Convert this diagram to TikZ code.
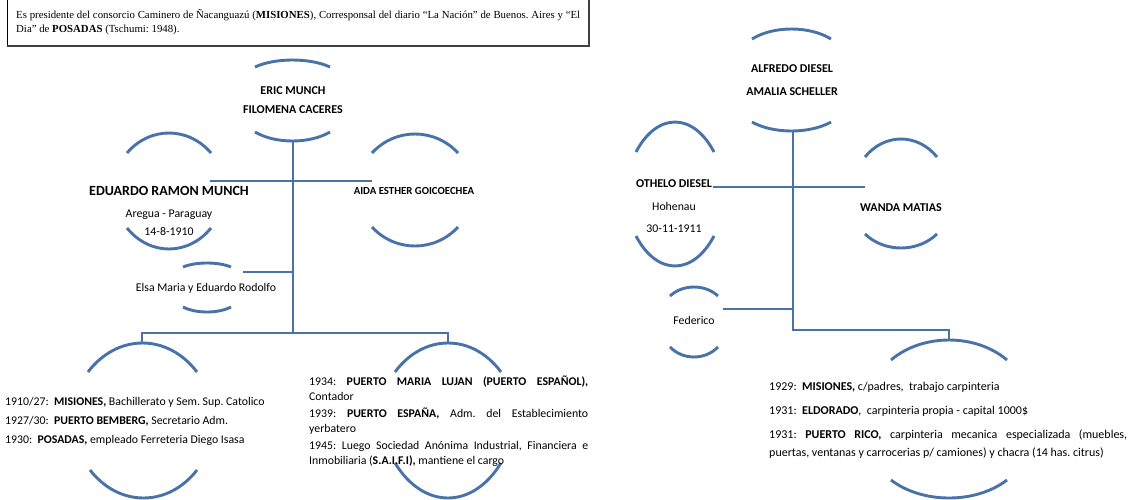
\documentclass[tikz,border=0pt]{standalone}
\usepackage{fontspec}
\setmainfont{Carlito}
\newfontfamily\timesf{Liberation Serif}
\definecolor{famblue}{RGB}{72,114,168}
\tikzset{
  conn/.style={draw=famblue, line width=2.9pt},
  arcline/.style={draw=famblue, line width=2.9pt},
  nm/.style={font=\fontsize{12}{14}\selectfont\bfseries, inner sep=0pt, anchor=base},
  tx/.style={font=\fontsize{11.8}{14}\selectfont, inner sep=0pt, anchor=base},
  blk/.style={inner sep=0pt, anchor=base west},
}
\newcommand{\famarc}[4]{\draw[arcline] (#1,#3) .. controls ({#1+0.27*(#2-#1)},{#3+1.333*(#4-#3)}) and ({#2-0.27*(#2-#1)},{#3+1.333*(#4-#3)}) .. (#2,#3);}
\frenchspacing
\begin{document}
\begin{tikzpicture}[x=1pt,y=-1pt]
\useasboundingbox (0,0) rectangle (1128,499);
% top text box
\draw[black, line width=0.8pt] (7,-3) rectangle (589,46);
\draw[black!75, line width=1.6pt] (589,-3) -- (589,46) -- (7,46);
\node[blk] (bio) at (16,18.5) {\parbox[t]{564pt}{\timesf\fontsize{10.8}{14}\selectfont\hyphenpenalty=10000
Es presidente del consorcio Caminero de Ñacanguazú (\textbf{MISIONES}), Corresponsal del diario “La Nación” de Buenos. Aires y “El\linebreak
Dia” de \textbf{POSADAS} (Tschumi: 1948).}};

% ---------- left family ----------
\famarc{255}{330}{67}{60}
\famarc{255}{330}{132}{141}
\node[nm] (eric) at (293,94) {ERIC MUNCH};
\node[nm] (filomena) at (293,113) {FILOMENA CACERES};

\famarc{127}{211}{153}{133}
\famarc{127}{211}{228}{249}
\node[nm, font=\fontsize{14}{16}\selectfont\bfseries] (eduardo) at (169,195.5) {EDUARDO RAMON MUNCH};
\node[tx] (aregua) at (169,217) {Aregua - Paraguay};
\node[tx] (nac1) at (169,235) {14-8-1910};

\famarc{372}{458}{153}{134}
\famarc{372}{458}{227}{246}
\node[nm, font=\fontsize{10.8}{12}\selectfont\bfseries] (aida) at (414,194) {AIDA ESTHER GOICOECHEA};

\famarc{183}{231}{267}{263}
\famarc{183}{231}{307}{312}
\node[tx] (elsa) at (206,291) {Elsa Maria y Eduardo Rodolfo};

\famarc{88}{197}{372}{343}
\famarc{90}{197}{470}{498}
\famarc{395}{501}{372}{343}
\famarc{395}{501}{463}{498}

\node[tx, anchor=base west] (l1) at (5,405) {1910/27:\ \ \textbf{MISIONES,} Bachillerato y Sem. Sup. Catolico};
\node[tx, anchor=base west] (l2) at (5,424) {1927/30:\ \ \textbf{PUERTO BEMBERG,} Secretario Adm.};
\node[tx, anchor=base west] (l3) at (5,443) {1930:\ \ \textbf{POSADAS,} empleado Ferreteria Diego Isasa};

\node[blk] (mid) at (309,385) {\parbox[t]{279pt}{\fontsize{11.8}{15.5}\selectfont\setlength{\parskip}{1.2pt}\hyphenpenalty=10000
1934: \textbf{PUERTO MARIA LUJAN (PUERTO ESPAÑOL),}\linebreak Contador\par
1939: \textbf{PUERTO ESPAÑA,} Adm. del Establecimiento\linebreak yerbatero\par
1945: Luego Sociedad Anónima Industrial, Financiera e\linebreak Inmobiliaria (\textbf{S.A.I.F.I),} mantiene el cargo}};

\coordinate (LT) at (293,141);
\coordinate (LJ) at (293,333);
\coordinate (LsL) at (210,181);
\coordinate (LsR) at (372,181);
\coordinate (Le) at (243,272);
\coordinate (Lc1) at (142,343);
\coordinate (Lc2) at (448,343);
\draw[conn] (LT) -- (LJ);
\draw[conn] (LsL) -- (LsR);
\draw[conn] (Le) -- (LT |- Le);
\draw[conn] (Lc1) |- (LJ) -| (Lc2);

% ---------- right family ----------
\famarc{752}{831}{39}{29}
\famarc{752}{831}{122}{131}
\node[nm] (alfredo) at (792,72) {ALFREDO DIESEL};
\node[nm] (amalia) at (792,95) {AMALIA SCHELLER};

\famarc{636}{714}{152}{122}
\famarc{636}{714}{236}{266}
\node[nm] (othelo) at (674,187.5) {OTHELO DIESEL};
\node[tx] (hohenau) at (674,210) {Hohenau};
\node[tx] (nac2) at (674,232) {30-11-1911};

\famarc{865}{937}{157}{139}
\famarc{865}{937}{234}{248}
\node[nm] (wanda) at (901,211) {WANDA MATIAS};

\famarc{670}{718}{296}{287}
\famarc{670}{718}{347}{357}
\node[tx] (federico) at (694,324) {Federico};

\famarc{891}{1007}{360}{340}
\famarc{891}{1007}{480}{498}
\node[blk] (rt) at (769,390) {\parbox[t]{358pt}{\fontsize{12}{18}\selectfont\setlength{\parskip}{6pt}\hyphenpenalty=10000
1929:\ \ \textbf{MISIONES,} c/padres,\ \ trabajo carpinteria\par
1931:\ \ \textbf{ELDORADO},\ \ carpinteria propia - capital 1000\$\par
1931: \textbf{PUERTO RICO,} carpinteria mecanica especializada (muebles,\linebreak puertas, ventanas y carrocerias p/ camiones) y chacra (14 has. citrus)}};

\coordinate (RT) at (793,131);
\coordinate (RJ) at (793,330);
\coordinate (RsL) at (713,187);
\coordinate (RsR) at (865,187);
\coordinate (Rf) at (723,309);
\coordinate (Rc) at (949,340);
\draw[conn] (RT) -- (RJ) -| (Rc);
\draw[conn] (RsL) -- (RsR);
\draw[conn] (Rf) -- (RT |- Rf);
\end{tikzpicture}
\end{document}
